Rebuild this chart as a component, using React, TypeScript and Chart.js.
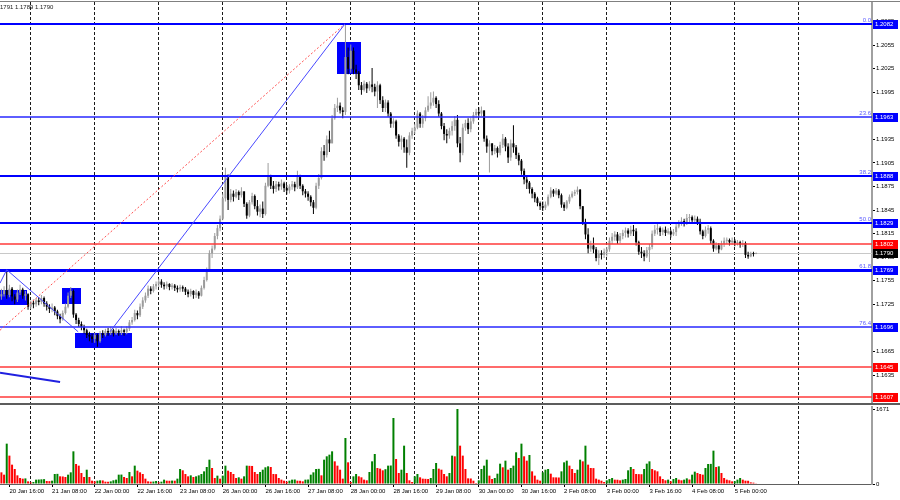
import React, { useEffect, useRef } from "react";
import { Chart, registerables } from "chart.js";

Chart.register(...registerables);

// ---------- data (EURUSD H1, bar 0 = 20 Jan 13:00) ----------
const FIRST_OPEN = 1.1735;

const CLOSES = [
  1.1738, 1.1743, 1.1737, 1.1745, 1.1735, 1.1731, 1.1740, 1.1744, 1.1736, 1.1738,
  1.1722, 1.1727, 1.1725, 1.1730, 1.1728, 1.1733, 1.1726, 1.1722, 1.1719, 1.1721,
  1.1716, 1.1710, 1.1706, 1.1714, 1.1722, 1.1736, 1.1742, 1.1712, 1.1705, 1.1700,
  1.1696, 1.1692, 1.1686, 1.1684, 1.1681, 1.1686, 1.1678, 1.1688, 1.1686, 1.1691,
  1.1689, 1.1692, 1.1688, 1.1691, 1.1689, 1.1692, 1.1690, 1.1694, 1.1702, 1.1705,
  1.1714, 1.1711, 1.1722, 1.1730, 1.1736, 1.1745, 1.1742, 1.1748, 1.1751, 1.1754,
  1.1750, 1.1748, 1.1751, 1.1747, 1.1749, 1.1746, 1.1744, 1.1747, 1.1745, 1.1741,
  1.1738, 1.1742, 1.1737, 1.1740, 1.1736, 1.1746, 1.1756, 1.1770, 1.1790, 1.1796,
  1.1812, 1.1822, 1.1834, 1.1860, 1.1890, 1.1858, 1.1866, 1.1862, 1.1868, 1.1864,
  1.1869, 1.1853, 1.1838, 1.1855, 1.1863, 1.1850, 1.1843, 1.1847, 1.1840, 1.1876,
  1.1888, 1.1876, 1.1872, 1.1878, 1.1875, 1.1879, 1.1873, 1.1870, 1.1875, 1.1878,
  1.1874, 1.1887, 1.1876, 1.1869, 1.1866, 1.1862, 1.1855, 1.1848, 1.1876, 1.1886,
  1.1920, 1.1915, 1.1935, 1.1930, 1.1962, 1.1975, 1.1978, 1.1972, 1.1970, 1.2040,
  1.2025, 1.2048, 1.2024, 1.2020, 1.2004, 1.1998, 1.2006, 1.2000, 1.2005, 1.2002,
  1.1996, 1.2004, 1.1985, 1.1975, 1.1982, 1.1968, 1.1955, 1.1958, 1.1940, 1.1932,
  1.1936, 1.1925, 1.1918, 1.1940, 1.1946, 1.1950, 1.1968, 1.1955, 1.1962, 1.1972,
  1.1978, 1.1982, 1.1988, 1.1980, 1.1968, 1.1952, 1.1942, 1.1940, 1.1946, 1.1952,
  1.1960, 1.1930, 1.1918, 1.1950, 1.1956, 1.1948, 1.1958, 1.1966, 1.1970, 1.1968,
  1.1972, 1.1936, 1.1926, 1.1930, 1.1920, 1.1924, 1.1918, 1.1928, 1.1936, 1.1926,
  1.1912, 1.1930, 1.1925, 1.1915, 1.1908, 1.1895, 1.1884, 1.1880, 1.1872, 1.1866,
  1.1860, 1.1854, 1.1850, 1.1848, 1.1852, 1.1862, 1.1870, 1.1866, 1.1870, 1.1864,
  1.1852, 1.1848, 1.1856, 1.1862, 1.1866, 1.1868, 1.1871, 1.1850, 1.1830, 1.1814,
  1.1796, 1.1800, 1.1795, 1.1784, 1.1790, 1.1788, 1.1792, 1.1795, 1.1806, 1.1811,
  1.1814, 1.1806, 1.1812, 1.1816, 1.1819, 1.1815, 1.1820, 1.1818, 1.1804, 1.1792,
  1.1790, 1.1786, 1.1794, 1.1798, 1.1815, 1.1820, 1.1822, 1.1817, 1.1820, 1.1816,
  1.1818, 1.1814, 1.1817, 1.1824, 1.1828, 1.1831, 1.1828, 1.1835, 1.1836, 1.1832,
  1.1834, 1.1830, 1.1818, 1.1812, 1.1820, 1.1822, 1.1806, 1.1796, 1.1800, 1.1795,
  1.1802, 1.1806, 1.1807, 1.1804, 1.1806, 1.1803, 1.1804, 1.1801, 1.1803, 1.1788,
  1.1786, 1.1790, 1.1789, 1.1790,
];

const HIGHS = [
  1.1745, 1.1748, 1.1769, 1.1750, 1.1747, 1.1738, 1.1744, 1.1750, 1.1746, 1.1742,
  1.1739, 1.1730, 1.1731, 1.1733, 1.1734, 1.1737, 1.1735, 1.1729, 1.1725, 1.1726,
  1.1723, 1.1718, 1.1713, 1.1717, 1.1726, 1.1740, 1.1747, 1.1744, 1.1714, 1.1708,
  1.1703, 1.1699, 1.1694, 1.1690, 1.1688, 1.1689, 1.1688, 1.1691, 1.1692, 1.1694,
  1.1695, 1.1696, 1.1694, 1.1695, 1.1693, 1.1697, 1.1694, 1.1697, 1.1705, 1.1709,
  1.1718, 1.1717, 1.1726, 1.1734, 1.1740, 1.1749, 1.1748, 1.1751, 1.1754, 1.1758,
  1.1757, 1.1753, 1.1754, 1.1752, 1.1752, 1.1751, 1.1749, 1.1750, 1.1749, 1.1747,
  1.1744, 1.1745, 1.1743, 1.1744, 1.1742, 1.1749, 1.1760, 1.1772, 1.1794, 1.1800,
  1.1816, 1.1826, 1.1838, 1.1866, 1.1899, 1.1890, 1.1872, 1.1870, 1.1872, 1.1870,
  1.1874, 1.1868, 1.1855, 1.1858, 1.1867, 1.1865, 1.1858, 1.1852, 1.1856, 1.1880,
  1.1905, 1.1890, 1.1882, 1.1882, 1.1881, 1.1884, 1.1881, 1.1877, 1.1878, 1.1882,
  1.1881, 1.1895, 1.1890, 1.1878, 1.1872, 1.1869, 1.1864, 1.1858, 1.1880, 1.1891,
  1.1925, 1.1928, 1.1940, 1.1946, 1.1966, 1.1980, 1.1988, 1.1982, 1.1976, 1.2082,
  1.2052, 1.2056, 1.2052, 1.2030, 1.2022, 1.2008, 1.2010, 1.2008, 1.2009, 1.2026,
  1.2006, 1.2009, 1.2006, 1.1990, 1.1986, 1.1985, 1.1970, 1.1962, 1.1960, 1.1942,
  1.1940, 1.1938, 1.1935, 1.1944, 1.1950, 1.1955, 1.1972, 1.1970, 1.1966, 1.1976,
  1.1990, 1.1995, 1.1996, 1.1990, 1.1985, 1.1970, 1.1956, 1.1948, 1.1950, 1.1958,
  1.1965, 1.1966, 1.1938, 1.1955, 1.1960, 1.1962, 1.1963, 1.1970, 1.1974, 1.1976,
  1.1977, 1.1972, 1.1940, 1.1934, 1.1930, 1.1928, 1.1926, 1.1932, 1.1942, 1.1938,
  1.1930, 1.1935, 1.1953, 1.1928, 1.1918, 1.1910, 1.1898, 1.1888, 1.1882, 1.1874,
  1.1868, 1.1862, 1.1856, 1.1856, 1.1856, 1.1865, 1.1874, 1.1872, 1.1873, 1.1872,
  1.1866, 1.1855, 1.1858, 1.1865, 1.1869, 1.1871, 1.1875, 1.1872, 1.1850, 1.1834,
  1.1822, 1.1806, 1.1810, 1.1798, 1.1794, 1.1794, 1.1796, 1.1798, 1.1810, 1.1816,
  1.1818, 1.1817, 1.1816, 1.1820, 1.1823, 1.1822, 1.1825, 1.1826, 1.1822, 1.1806,
  1.1798, 1.1794, 1.1798, 1.1802, 1.1819, 1.1826, 1.1828, 1.1824, 1.1823, 1.1824,
  1.1822, 1.1820, 1.1821, 1.1828, 1.1832, 1.1836, 1.1834, 1.1840, 1.1840, 1.1838,
  1.1838, 1.1837, 1.1834, 1.1820, 1.1824, 1.1826, 1.1824, 1.1808, 1.1804, 1.1803,
  1.1806, 1.1810, 1.1810, 1.1809, 1.1810, 1.1808, 1.1807, 1.1806, 1.1807, 1.1805,
  1.1792, 1.1792, 1.1792, 1.1791,
];

const LOWS = [
  1.1731, 1.1735, 1.1732, 1.1734, 1.1729, 1.1725, 1.1728, 1.1737, 1.1732, 1.1730,
  1.1718, 1.1719, 1.1720, 1.1722, 1.1724, 1.1725, 1.1722, 1.1717, 1.1714, 1.1715,
  1.1711, 1.1706, 1.1701, 1.1704, 1.1712, 1.1720, 1.1733, 1.1708, 1.1700, 1.1696,
  1.1692, 1.1688, 1.1682, 1.1678, 1.1676, 1.1676, 1.1671, 1.1676, 1.1682, 1.1684,
  1.1685, 1.1686, 1.1684, 1.1686, 1.1685, 1.1686, 1.1685, 1.1687, 1.1691, 1.1699,
  1.1703, 1.1706, 1.1709, 1.1719, 1.1727, 1.1733, 1.1738, 1.1740, 1.1744, 1.1747,
  1.1746, 1.1744, 1.1745, 1.1743, 1.1744, 1.1742, 1.1740, 1.1741, 1.1741, 1.1737,
  1.1734, 1.1735, 1.1732, 1.1733, 1.1732, 1.1735, 1.1744, 1.1754, 1.1768, 1.1784,
  1.1794, 1.1808, 1.1818, 1.1832, 1.1856, 1.1845, 1.1855, 1.1856, 1.1860, 1.1858,
  1.1861, 1.1849, 1.1834, 1.1836, 1.1852, 1.1846, 1.1838, 1.1836, 1.1835, 1.1838,
  1.1874, 1.1872, 1.1866, 1.1868, 1.1870, 1.1871, 1.1868, 1.1865, 1.1866, 1.1871,
  1.1869, 1.1872, 1.1872, 1.1864, 1.1861, 1.1857, 1.1850, 1.1840, 1.1846, 1.1872,
  1.1884, 1.1908, 1.1912, 1.1919, 1.1930, 1.1960, 1.1970, 1.1968, 1.1962, 1.1966,
  1.2018, 1.2020, 1.2018, 1.2012, 1.1998, 1.1992, 1.1996, 1.1994, 1.1997, 1.1995,
  1.1990, 1.1975, 1.1980, 1.1970, 1.1970, 1.1964, 1.1950, 1.1950, 1.1936, 1.1926,
  1.1922, 1.1918, 1.1899, 1.1915, 1.1936, 1.1942, 1.1948, 1.1950, 1.1950, 1.1958,
  1.1970, 1.1974, 1.1978, 1.1975, 1.1964, 1.1948, 1.1934, 1.1930, 1.1936, 1.1940,
  1.1946, 1.1925, 1.1906, 1.1915, 1.1946, 1.1942, 1.1944, 1.1955, 1.1962, 1.1964,
  1.1965, 1.1932, 1.1918, 1.1893, 1.1915, 1.1916, 1.1912, 1.1915, 1.1924, 1.1920,
  1.1905, 1.1908, 1.1918, 1.1910, 1.1902, 1.1890, 1.1878, 1.1872, 1.1866, 1.1860,
  1.1855, 1.1850, 1.1845, 1.1844, 1.1845, 1.1850, 1.1860, 1.1862, 1.1864, 1.1860,
  1.1848, 1.1844, 1.1846, 1.1853, 1.1860, 1.1863, 1.1865, 1.1846, 1.1826, 1.1808,
  1.1790, 1.1792, 1.1790, 1.1780, 1.1775, 1.1782, 1.1784, 1.1786, 1.1792, 1.1802,
  1.1806, 1.1802, 1.1803, 1.1808, 1.1810, 1.1810, 1.1812, 1.1812, 1.1800, 1.1788,
  1.1784, 1.1780, 1.1784, 1.1779, 1.1795, 1.1812, 1.1814, 1.1812, 1.1813, 1.1812,
  1.1814, 1.1810, 1.1812, 1.1812, 1.1822, 1.1825, 1.1824, 1.1826, 1.1830, 1.1828,
  1.1829, 1.1826, 1.1814, 1.1808, 1.1810, 1.1815, 1.1802, 1.1792, 1.1794, 1.1790,
  1.1794, 1.1798, 1.1802, 1.1800, 1.1801, 1.1799, 1.1800, 1.1797, 1.1798, 1.1784,
  1.1783, 1.1785, 1.1786, 1.1789,
];

const VOLUMES = [
  260, 208, 899, 632, 431, 334, 193, 134, 119, 125,
  59, 37, 45, 97, 100, 104, 108, 67, 64, 74,
  223, 226, 171, 168, 156, 208, 260, 728, 446, 409,
  245, 156, 319, 156, 74, 59, 74, 82, 80, 52,
  50, 59, 82, 97, 208, 210, 156, 134, 267, 171,
  409, 297, 260, 223, 119, 59, 52, 55, 67, 37,
  52, 97, 74, 72, 76, 74, 119, 334, 305, 223,
  171, 193, 156, 171, 193, 223, 282, 379, 542, 357,
  134, 186, 119, 186, 409, 297, 267, 223, 134, 149,
  119, 171, 409, 405, 402, 267, 223, 267, 319, 372,
  394, 379, 223, 220, 134, 97, 74, 52, 74, 97,
  100, 74, 72, 59, 97, 100, 208, 260, 334, 338,
  193, 542, 617, 654, 728, 505, 409, 319, 119, 1025,
  483, 45, 171, 223, 171, 149, 97, 82, 267, 505,
  669, 357, 342, 305, 330, 409, 412, 1471, 557, 245,
  319, 854, 245, 82, 45, 171, 223, 149, 119, 115,
  111, 134, 334, 468, 342, 319, 223, 171, 245, 632,
  617, 1671, 854, 632, 334, 126, 123, 74, 22, 82,
  334, 409, 542, 186, 111, 134, 230, 453, 372, 520,
  319, 357, 409, 706, 580, 899, 617, 520, 646, 282,
  186, 97, 74, 260, 319, 334, 230, 149, 147, 145,
  282, 483, 520, 409, 334, 245, 319, 542, 505, 854,
  431, 357, 354, 119, 97, 74, 45, 82, 111, 134,
  97, 95, 82, 97, 111, 305, 379, 334, 223, 220,
  218, 334, 453, 505, 334, 305, 282, 171, 111, 82,
  97, 59, 111, 134, 97, 82, 97, 126, 100, 208,
  275, 245, 223, 208, 357, 446, 448, 743, 379, 394,
  245, 134, 97, 82, 59, 62, 97, 134, 97, 74,
  72, 37, 30, 7,
];

const DAY_START_BARS = [11, 35, 59, 83, 107, 131, 155, 179, 203, 227, 251, 275, 299];
const TIME_LABEL_BARS = [3, 19, 35, 51, 67, 83, 99, 115, 131, 147, 163, 179, 195, 211, 227, 243, 259, 275];
const TIME_LABELS = [
  "20 Jan 16:00", "21 Jan 08:00", "22 Jan 00:00", "22 Jan 16:00", "23 Jan 08:00",
  "26 Jan 00:00", "26 Jan 16:00", "27 Jan 08:00", "28 Jan 00:00", "28 Jan 16:00",
  "29 Jan 08:00", "30 Jan 00:00", "30 Jan 16:00", "2 Feb 08:00", "3 Feb 00:00",
  "3 Feb 16:00", "4 Feb 08:00", "5 Feb 00:00",
];
const PRICE_TICKS = [
  1.1605, 1.1635, 1.1665, 1.1695, 1.1725, 1.1755, 1.1785, 1.1815, 1.1845,
  1.1875, 1.1905, 1.1935, 1.1965, 1.1995, 1.2025, 1.2055, 1.2085,
];
const VOLUME_TICKS = [0, 1671];

const FIB_PRICES = [1.2082, 1.1963, 1.1888, 1.1829, 1.1769, 1.1696];
const FIB_NAMES = ["0.0", "23.6", "38.2", "50.0", "61.8", "76.4"];
const RED_PRICES = [1.1802, 1.1645, 1.1607];
const BID_PRICE = 1.1790;
const HEADER_TEXT = "1791 1.1789 1.1790";

// zones: [first bar, last bar, low price, high price]
const ZONES = [
  [-0.6, 9.5, 1.1724, 1.1743],
  [22.6, 29.7, 1.1726, 1.1746],
  [27.6, 48.9, 1.1670, 1.1689],
  [125.7, 134.7, 1.2018, 1.2059],
];
// trend lines: points as [bar, price]
const TREND_ZIGZAG = [[-0.525, 1.1752], [2.0, 1.1769], [28.8, 1.1690]];
const TREND_RALLY = [[40.7, 1.1690], [128.8, 1.2082]];
const TREND_FIB = [[-0.525, 1.1692], [128.8, 1.2082]];
const TREND_OLD = [[-0.525, 1.1638], [22.0, 1.1626]];

// ---------- view constants ----------
const X_MIN = -0.525;
const X_MAX = 326.45;
const P_MIN = 1.159936;
const P_MAX = 1.211002;
const V_MAX = 1737.9;
const FONT = "'Liberation Sans', Arial, sans-serif";
const BULL = "#9c9c9c";
const BEAR = "#000000";

function hline(ctx: CanvasRenderingContext2D, yp: number, x0: number, x1: number, w: number, color: string) {
  const yy = Math.round(yp) + (Math.round(w) % 2 === 1 ? 0.5 : 0);
  ctx.strokeStyle = color;
  ctx.lineWidth = w;
  ctx.setLineDash([]);
  ctx.beginPath();
  ctx.moveTo(x0, yy);
  ctx.lineTo(x1, yy);
  ctx.stroke();
}

function polyline(ctx: CanvasRenderingContext2D, chart: any, pts: number[][], w: number, color: string, dash: number[]) {
  const { x, y } = chart.scales;
  ctx.strokeStyle = color;
  ctx.lineWidth = w;
  ctx.setLineDash(dash);
  ctx.beginPath();
  pts.forEach((p, i) => {
    const px = x.getPixelForValue(p[0]);
    const py = y.getPixelForValue(p[1]);
    if (i === 0) ctx.moveTo(px, py);
    else ctx.lineTo(px, py);
  });
  ctx.stroke();
  ctx.setLineDash([]);
}

const priceOverlay = {
  id: "priceOverlay",
  beforeDatasetsDraw(chart: any) {
    const { ctx, chartArea, scales } = chart;
    const { x, y } = scales;
    ctx.save();
    ctx.beginPath();
    ctx.rect(chartArea.left, chartArea.top, chartArea.right - chartArea.left, chartArea.bottom - chartArea.top);
    ctx.clip();
    ctx.fillStyle = "#0000ff";
    ZONES.forEach(([b0, b1, p0, p1]) => {
      const x0 = Math.round(x.getPixelForValue(b0));
      const x1 = Math.round(x.getPixelForValue(b1));
      const y0 = Math.round(y.getPixelForValue(p1));
      const y1 = Math.round(y.getPixelForValue(p0));
      ctx.fillRect(x0, y0, x1 - x0, y1 - y0);
    });
    hline(ctx, y.getPixelForValue(BID_PRICE), chartArea.left, chartArea.right, 1, "#c8c8c8");
    ctx.restore();
  },
  afterDatasetsDraw(chart: any) {
    const { ctx, chartArea, scales } = chart;
    const { y } = scales;
    const L = chartArea.left;
    const R = chartArea.right;
    ctx.save();
    ctx.beginPath();
    ctx.rect(L, chartArea.top, R - L, chartArea.bottom - chartArea.top);
    ctx.clip();
    const fibW = [2, 1.5, 2, 2, 3, 1.5];
    FIB_PRICES.forEach((p, i) => {
      hline(ctx, y.getPixelForValue(p), L, R, fibW[i], fibW[i] < 2 ? "#2828ff" : "#0000ff");
    });
    RED_PRICES.forEach((p) => hline(ctx, y.getPixelForValue(p), L, R, 1.5, "#ff3a3a"));
    polyline(ctx, chart, TREND_FIB, 1, "#ff5050", [2, 2]);
    polyline(ctx, chart, TREND_ZIGZAG, 1, "#4848ff", []);
    polyline(ctx, chart, TREND_RALLY, 1, "#4848ff", []);
    polyline(ctx, chart, TREND_OLD, 2, "#2020e0", []);
    ctx.fillStyle = "#5a5aff";
    ctx.font = `6px ${FONT}`;
    ctx.textAlign = "right";
    ctx.textBaseline = "alphabetic";
    FIB_PRICES.forEach((p, i) => {
      const yp = Math.round(y.getPixelForValue(p));
      ctx.fillText(FIB_NAMES[i], R - 1, yp - 2);
    });
    ctx.restore();
  },
  afterDraw(chart: any) {
    const { ctx, chartArea, scales } = chart;
    const { y } = scales;
    ctx.save();
    // frame
    ctx.fillStyle = "#808080";
    ctx.fillRect(0, 1, 900, 1);
    ctx.fillStyle = "#5c5c5c";
    ctx.fillRect(0, chartArea.bottom, 900, 2);
    // header
    ctx.fillStyle = "#202020";
    ctx.font = `6px ${FONT}`;
    ctx.textAlign = "left";
    ctx.textBaseline = "middle";
    ctx.fillText(HEADER_TEXT, 0, 7);
    // price boxes on axis
    const boxes: [number, string][] = [];
    FIB_PRICES.forEach((p) => boxes.push([p, "#0000ff"]));
    RED_PRICES.forEach((p) => boxes.push([p, "#ff0000"]));
    boxes.push([BID_PRICE, "#000000"]);
    boxes.forEach(([p, c]) => {
      const yp = Math.round(y.getPixelForValue(p));
      ctx.fillStyle = c;
      ctx.fillRect(chartArea.right + 1, yp - 4, 25, 9);
      ctx.fillStyle = "#ffffff";
      ctx.fillText(p.toFixed(4), chartArea.right + 3, yp + 0.5);
    });
    ctx.restore();
  },
};

function buildCandles() {
  const wicks: any[] = [];
  const bodies: any[] = [];
  const colors: string[] = [];
  let prev = FIRST_OPEN;
  CLOSES.forEach((c, i) => {
    const o = prev;
    wicks.push({ x: i, y: [LOWS[i], HIGHS[i]] });
    bodies.push({ x: i, y: [Math.min(o, c), Math.max(o, c)] });
    colors.push(c >= o ? BULL : BEAR);
    prev = c;
  });
  return { wicks, bodies, colors };
}

function buildVolumes() {
  const data = VOLUMES.map((v, i) => ({ x: i, y: v }));
  const colors = VOLUMES.map((v, i) => (i > 0 && v > VOLUMES[i - 1] ? "#008000" : "#ff0000"));
  return { data, colors };
}

export default function App() {
  const priceRef = useRef<HTMLCanvasElement | null>(null);
  const volRef = useRef<HTMLCanvasElement | null>(null);

  useEffect(() => {
    const { wicks, bodies, colors } = buildCandles();
    const vol = buildVolumes();
    const tickFont = { family: FONT, size: 6 };

    const priceChart = new Chart(priceRef.current as HTMLCanvasElement, {
      type: "bar",
      data: {
        datasets: [
          { data: wicks as any, backgroundColor: colors, barThickness: 1, grouped: false, inflateAmount: 0, borderWidth: 0 } as any,
          { data: bodies as any, backgroundColor: colors, barThickness: 2, grouped: false, inflateAmount: 0, borderWidth: 0, minBarLength: 1 } as any,
        ],
      },
      options: {
        animation: false,
        responsive: false,
        maintainAspectRatio: false,
        events: [],
        layout: { padding: { top: 2, bottom: 3, left: 0, right: 0 } },
        plugins: { legend: { display: false }, tooltip: { enabled: false }, title: { display: false } },
        scales: {
          x: {
            type: "linear",
            min: X_MIN,
            max: X_MAX,
            offset: false,
            bounds: "data",
            position: "bottom",
            grid: { color: "#1a1a1a", lineWidth: 1, drawTicks: false, offset: false },
            border: { display: false, dash: [3, 2] },
            ticks: { display: false },
            afterBuildTicks: (s: any) => {
              s.ticks = DAY_START_BARS.map((v) => ({ value: v }));
            },
            afterFit: (s: any) => {
              s.height = 0;
              s.paddingLeft = 0;
              s.paddingRight = 0;
            },
          } as any,
          y: {
            type: "linear",
            position: "right",
            min: P_MIN,
            max: P_MAX,
            bounds: "data",
            grid: { drawOnChartArea: false, drawTicks: true, tickLength: 3, color: "#000000" },
            border: { display: true, color: "#a0a0a0", width: 2 },
            ticks: {
              font: tickFont,
              color: "#000000",
              padding: 1,
              autoSkip: false,
              callback: (v: any) => Number(v).toFixed(4),
            },
            afterBuildTicks: (s: any) => {
              s.ticks = PRICE_TICKS.map((v) => ({ value: v }));
            },
            afterFit: (s: any) => {
              s.width = 28;
              s.paddingTop = 0;
              s.paddingBottom = 0;
            },
          } as any,
        },
      },
      plugins: [priceOverlay],
    });

    const volChart = new Chart(volRef.current as HTMLCanvasElement, {
      type: "bar",
      data: {
        datasets: [
          { data: vol.data as any, backgroundColor: vol.colors, barThickness: 2, grouped: false, inflateAmount: 0, borderWidth: 0, xAxisID: "x" } as any,
        ],
      },
      options: {
        animation: false,
        responsive: false,
        maintainAspectRatio: false,
        events: [],
        layout: { padding: { top: 0, bottom: 0, left: 0, right: 0 } },
        plugins: { legend: { display: false }, tooltip: { enabled: false } },
        scales: {
          xg: {
            type: "linear",
            min: X_MIN,
            max: X_MAX,
            offset: false,
            bounds: "data",
            position: "bottom",
            weight: 1,
            grid: { color: "#1a1a1a", lineWidth: 1, drawTicks: false, offset: false },
            border: { display: false, dash: [3, 2] },
            ticks: { display: false },
            afterBuildTicks: (s: any) => {
              s.ticks = DAY_START_BARS.map((v) => ({ value: v }));
            },
            afterFit: (s: any) => {
              s.height = 0;
              s.paddingLeft = 0;
              s.paddingRight = 0;
            },
          } as any,
          x: {
            type: "linear",
            min: X_MIN,
            max: X_MAX,
            offset: false,
            bounds: "data",
            position: "bottom",
            weight: 2,
            grid: { drawOnChartArea: false, drawTicks: true, tickLength: 3, color: "#000000", offset: false },
            border: { display: true, color: "#606060", width: 1 },
            ticks: {
              display: true,
              align: "start",
              maxRotation: 0,
              minRotation: 0,
              autoSkip: false,
              font: tickFont,
              color: "#000000",
              padding: 1,
              callback: (_v: any, idx: number) => TIME_LABELS[idx],
            },
            afterBuildTicks: (s: any) => {
              s.ticks = TIME_LABEL_BARS.map((v) => ({ value: v }));
            },
            afterFit: (s: any) => {
              s.height = 16;
              s.paddingLeft = 0;
              s.paddingRight = 0;
            },
          } as any,
          y: {
            type: "linear",
            position: "right",
            min: 0,
            max: V_MAX,
            bounds: "data",
            grid: { drawOnChartArea: false, drawTicks: true, tickLength: 3, color: "#000000" },
            border: { display: true, color: "#a0a0a0", width: 2 },
            ticks: { font: tickFont, color: "#000000", padding: 1, autoSkip: false, callback: (v: any) => String(v) },
            afterBuildTicks: (s: any) => {
              s.ticks = VOLUME_TICKS.map((v) => ({ value: v }));
            },
            afterFit: (s: any) => {
              s.width = 28;
              s.paddingTop = 0;
              s.paddingBottom = 0;
            },
          } as any,
        },
      },
    });

    return () => {
      priceChart.destroy();
      volChart.destroy();
    };
  }, []);

  return (
    <div style={{ position: "absolute", left: 0, top: 0, width: 900, height: 500, background: "#ffffff", overflow: "hidden" }}>
      <canvas ref={priceRef} width={900} height={406} style={{ position: "absolute", left: 0, top: 0, width: 900, height: 406 }} />
      <canvas ref={volRef} width={900} height={94} style={{ position: "absolute", left: 0, top: 406, width: 900, height: 94 }} />
    </div>
  );
}
